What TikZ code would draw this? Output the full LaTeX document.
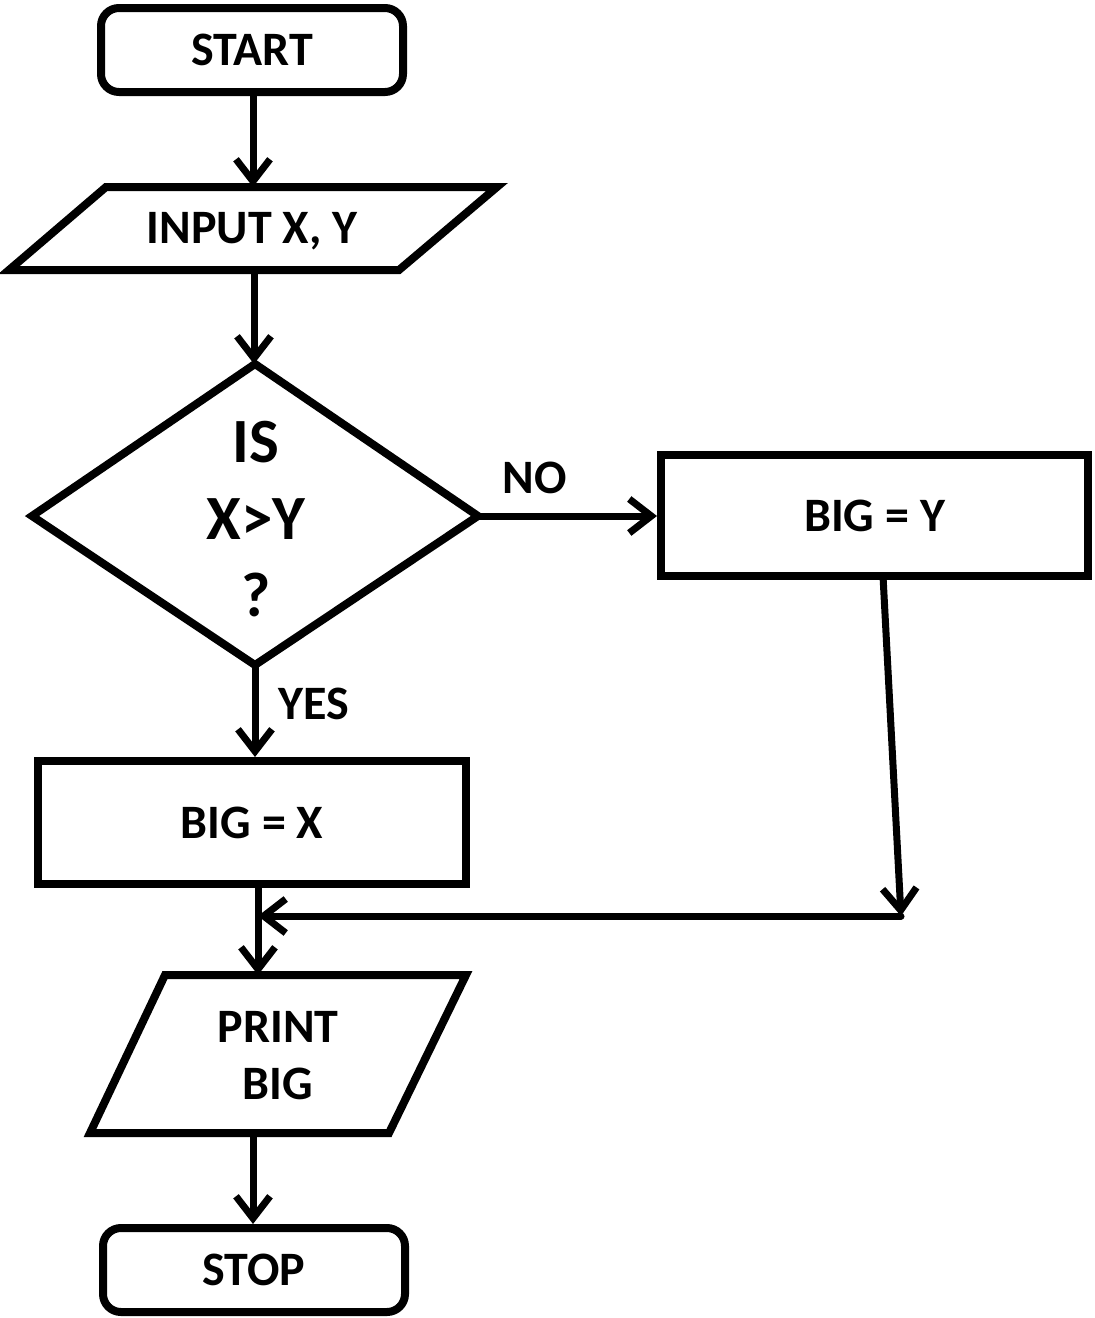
\documentclass[tikz,border=0pt]{standalone}
\usepackage{fontspec}
\setmainfont{Carlito}
\usetikzlibrary{arrows.meta,shapes.geometric}

\begin{document}
\begin{tikzpicture}[x=1pt,y=-1pt,
  txt/.style={font=\fontsize{48}{57}\selectfont\bfseries, align=center, inner sep=0pt},
  bigtxt/.style={font=\fontsize{63}{77}\selectfont\bfseries, align=center, inner sep=0pt},
  term/.style={draw, line width=8pt, rounded corners=18pt, rectangle, inner sep=0pt},
  procbox/.style={draw, line width=8pt, rectangle, inner sep=0pt},
  outline/.style={draw, line width=8pt, line join=miter},
  arr/.style={line width=7pt, line cap=round, -{Straight Barb[length=22pt,width=34pt]}},
]
\useasboundingbox (0,0) rectangle (1095,1318);

% terminals and process boxes
\node[term, minimum width=302pt, minimum height=84pt] (start) at (252,50) {};
\node[txt] at (start.center) {START};

\node[procbox, minimum width=427pt, minimum height=121pt] (bigy) at (874.5,515.5) {};
\node[txt] at (bigy.center) {BIG = Y};

\node[procbox, minimum width=428pt, minimum height=123pt] (bigx) at (252,822.5) {};
\node[txt] at (bigx.center) {BIG = X};

\node[term, minimum width=302pt, minimum height=84pt] (stop) at (254,1270) {};
\node[txt] at (stop.center) {STOP};

% input parallelogram
\draw[outline] (106,187) -- (497,187) -- (399,270) -- (9,270) -- cycle;
\node[txt] (input) at (252,231) {INPUT X, Y};
\coordinate (input-n) at (253,187);
\coordinate (input-s) at (254,270);

% decision diamond
\draw[outline] (255,364) -- (478,516) -- (255,665) -- (32,516) -- cycle;
\coordinate (dec-n) at (254,364);
\coordinate (dec-e) at (478,516);
\coordinate (dec-s) at (255,665);
\node[bigtxt] (cond) at (256,519) {IS\\X>Y\\?};

% output parallelogram
\draw[outline] (165,975) -- (466,975) -- (389,1133) -- (90,1133) -- cycle;
\node[txt] (print) at (278,1056) {PRINT\\BIG};
\coordinate (print-n) at (258,975);
\coordinate (print-s) at (253,1133);

% connectors
\draw[arr] (start.south -| input-n) -- (input-n);
\draw[arr] (input-s) -- (dec-n);
\draw[arr] (dec-e) -- (bigy.west |- dec-e);
\node[txt] (no) at (535,478) {NO};
\draw[arr] (dec-s) -- (bigx.north -| dec-s);
\node[txt] (yes) at (314,704) {YES};

\coordinate (ybot) at (883,576);
\coordinate (corner) at (901,916);
\coordinate (merge) at (258,916);
\draw[arr] (ybot) -- (corner);
\draw[arr] (corner) -- (merge);
\draw[arr] (bigx.south -| print-n) -- (print-n);
\draw[arr] (print-s) -- (stop.north -| print-s);
\end{tikzpicture}
\end{document}
